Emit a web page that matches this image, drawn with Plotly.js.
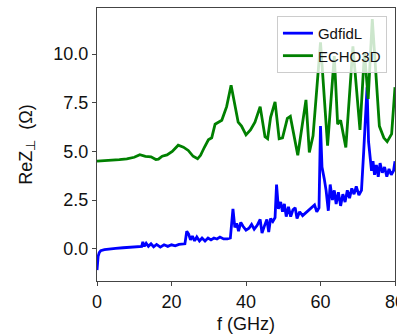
<!DOCTYPE html>
<html>
<head>
<meta charset="utf-8">
<script src="https://cdn.plot.ly/plotly-3.0.1.min.js"></script>
<style>html,body{margin:0;padding:0;background:#fff;}#chart{width:397px;height:335px;}</style>
</head>
<body>
<div id="chart"></div>
<script>
// GdfidL series (f in GHz, ReZ in Ohm)
const gdfidlF = [0.0,0.3,0.6,1.0,2.0,3.5,5.0,7.0,9.0,10.5,12.0,12.3,12.7,13.2,13.8,14.5,15.2,16.0,17.0,18.0,19.0,20.0,21.0,22.0,23.6,24.1,24.6,25.1,25.6,26.2,26.8,27.5,28.2,29.0,29.8,30.6,31.4,32.2,33.0,34.0,35.0,35.8,36.5,37.0,37.5,38.0,38.6,39.2,40.0,40.8,41.5,42.2,43.0,43.8,44.3,45.0,45.6,46.1,46.6,47.2,47.8,48.2,48.7,49.3,49.8,50.3,50.8,51.4,52.0,52.6,53.2,53.7,54.4,55.2,56.0,56.8,57.6,58.4,59.0,59.6,60.0,60.4,61.0,61.5,62.1,62.6,63.2,63.7,64.2,64.8,65.4,66.0,66.6,67.2,67.8,68.4,69.0,69.6,70.3,71.0,71.6,72.1,72.5,72.9,73.3,73.7,74.1,74.5,75.0,75.5,76.0,76.6,77.2,77.8,78.4,79.0,79.6,80.0];
const gdfidlZ = [-1.1,-0.4,-0.2,-0.1,-0.05,0.0,0.02,0.05,0.07,0.08,0.12,0.35,0.12,0.28,0.12,0.25,0.1,0.22,0.08,0.2,0.12,0.2,0.15,0.22,0.25,0.9,0.75,0.45,0.65,0.4,0.6,0.4,0.55,0.4,0.55,0.45,0.55,0.5,0.6,0.5,0.5,0.55,2.05,1.1,1.3,0.9,1.35,1.15,0.95,1.05,1.25,1.0,1.2,1.5,0.8,1.2,1.5,0.85,1.55,1.4,1.6,3.3,2.05,2.4,1.9,2.3,1.65,2.15,1.65,2.0,2.1,1.55,1.9,1.7,1.85,2.0,2.1,2.25,1.9,2.1,6.3,4.2,3.6,3.0,1.95,3.3,2.5,3.0,2.3,2.9,2.2,2.8,2.4,3.0,2.6,3.1,2.8,3.2,2.75,3.0,5.0,7.0,8.3,5.5,4.9,4.0,4.5,3.8,4.3,3.7,4.4,3.9,4.2,3.7,4.1,3.8,4.0,4.5];

// ECHO3D series
const echoF = [0,2,4,6,8,10,11.5,13,14.5,15.8,16.5,17.5,18.8,20.2,21.8,23.2,24.5,25.8,27.0,27.8,28.8,29.9,30.8,31.7,33.5,34.8,36.0,37.0,37.9,38.8,40.0,41.2,42.4,43.8,45.1,45.8,46.6,47.8,48.9,49.8,51.1,51.9,53.9,56.1,57.0,58.0,60.0,61.9,63.7,64.6,65.4,66.8,68.7,70.6,71.8,72.8,73.9,75.8,77.0,77.9,79.1,80.0];
const echoZ = [4.5,4.52,4.55,4.58,4.62,4.7,4.83,4.75,4.72,4.58,4.6,4.75,4.82,5.0,5.32,5.22,5.05,4.75,4.62,4.8,5.2,5.6,5.7,6.4,6.6,7.3,8.4,7.4,6.5,6.3,5.85,6.1,6.5,7.3,5.75,5.65,6.75,7.55,5.65,5.7,6.7,6.8,4.8,7.65,4.95,5.8,10.6,5.3,9.9,6.4,6.6,5.2,10.4,6.1,10.1,7.7,11.8,6.3,5.7,5.5,5.9,8.3];

const seriesNames = ["GdfidL", "ECHO3D"];
const xTicks = [0, 20, 40, 60, 80];
const yTicks = [0.0, 2.5, 5.0, 7.5, 10.0];
const yTickText = ["0.0", "2.5", "5.0", "7.5", "10.0"];

const font = "Liberation Sans, Arial, sans-serif";

const traces = [
  {x: gdfidlF, y: gdfidlZ, name: seriesNames[0], type: "scatter", mode: "lines",
   line: {color: "#0000ff", width: 2.8}},
  {x: echoF, y: echoZ, name: seriesNames[1], type: "scatter", mode: "lines",
   line: {color: "#008000", width: 2.8}}
];

const axisCommon = {
  showgrid: false, zeroline: false, showline: true, mirror: true,
  linecolor: "#444", linewidth: 1, ticks: "outside", ticklen: 4,
  tickcolor: "#444", tickwidth: 1, ticklabeloverflow: "allow",
  tickfont: {family: font, size: 18, color: "#111"}
};

const layout = {
  width: 397, height: 335,
  margin: {l: 97, r: 2, t: 8, b: 54},
  paper_bgcolor: "#fff", plot_bgcolor: "#fff",
  showlegend: true,
  legend: {x: 0.973, y: 0.971, xanchor: "right", yanchor: "top",
    bgcolor: "rgba(255,255,255,0.8)", bordercolor: "#cccccc", borderwidth: 1,
    font: {family: font, size: 15, color: "#111"}},
  xaxis: Object.assign({}, axisCommon, {
    range: [0, 80], tickvals: xTicks, ticktext: xTicks.map(String),
    title: {text: "f (GHz)", font: {family: font, size: 18, color: "#111"}, standoff: 6}
  }),
  yaxis: Object.assign({}, axisCommon, {
    range: [-1.66, 12.37], tickvals: yTicks, ticktext: yTickText,
    title: {text: "ReZ<sub><span style=\"color:#111\">⊥</span></sub>  (Ω)", font: {family: font, size: 18, color: "#111"}, standoff: 16}
  })
};

Plotly.newPlot("chart", traces, layout, {displayModeBar: false, staticPlot: true});
</script>
</body>
</html>
